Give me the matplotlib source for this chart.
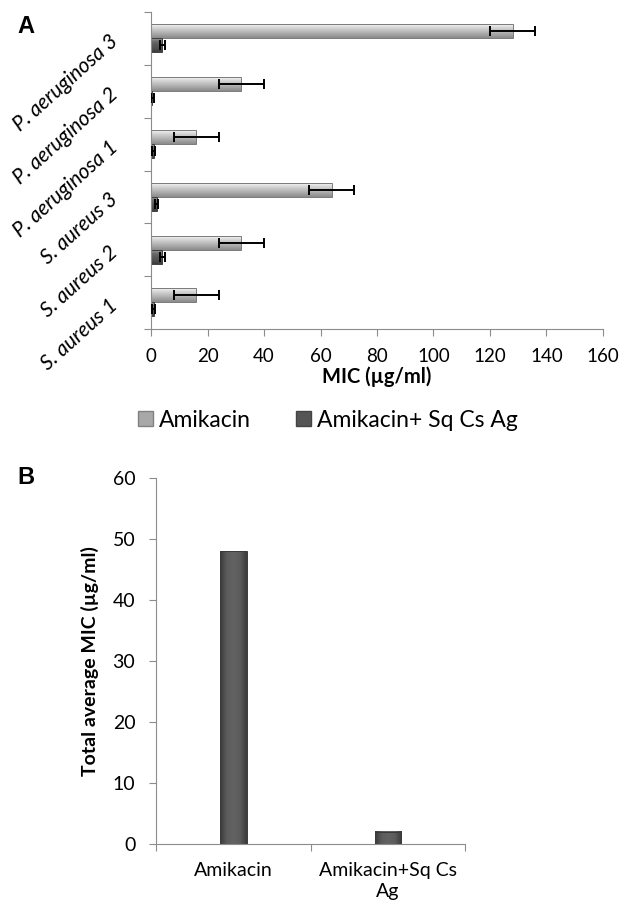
import matplotlib
matplotlib.use("Agg")
import matplotlib.pyplot as plt
import numpy as np
from matplotlib.patches import Patch
from matplotlib.colors import LinearSegmentedColormap

plt.rcParams['font.family'] = ['Lato', 'DejaVu Sans']

strains = ["S. aureus 1", "S. aureus 2", "S. aureus 3",
           "P. aeruginosa 1", "P. aeruginosa 2", "P. aeruginosa 3"]
amikacin = [16, 32, 64, 16, 32, 128]
amikacin_err = [8, 8, 8, 8, 8, 8]
combo = [1, 4, 2, 1, 0.5, 4]
combo_err = [0.5, 1, 0.5, 0.5, 0.5, 1]

groups = ["Amikacin", "Amikacin+Sq Cs\nAg"]
avg_mic = [48, 2]

light = "#a8a8a8"
dark = "#555555"
spine = "#8c8c8c"

light_cm = LinearSegmentedColormap.from_list("l", ["#8a8a8a", "#a4a4a4", "#bdbdbd", "#d6d6d6", "#f4f4f4"])
dark_cm = LinearSegmentedColormap.from_list("d", ["#3c3c3c", "#505050", "#5a5a5a", "#6a6a6a", "#9a9a9a"])
col_cm = LinearSegmentedColormap.from_list("c", ["#3a3a3a", "#5c5c5c", "#626262", "#5c5c5c", "#3a3a3a"])


def shade(ax, bars, cmap, vertical=False):
    # fake the bevelled office-style bars with a gradient inside each rectangle
    g = np.linspace(0, 1, 64)
    for p in bars:
        x0, y0 = p.get_x(), p.get_y()
        x1, y1 = x0 + p.get_width(), y0 + p.get_height()
        arr = g.reshape(1, -1) if vertical else g.reshape(-1, 1)
        ax.imshow(arr, extent=[x0, x1, y0, y1], origin="lower", aspect="auto",
                  cmap=cmap, zorder=1.2, interpolation="bilinear")


fig = plt.figure(figsize=(6.32, 9.08), dpi=100)

# panel A
ax = fig.add_axes([0.239, 0.6377, 0.715, 0.349])
y = np.arange(len(strains))
ekw = dict(ecolor="black", lw=1.4, capsize=3.5, capthick=1.4, zorder=3)
b1 = ax.barh(y + 0.135, amikacin, height=0.265, facecolor="none", edgecolor="#7a7a7a", lw=0.7,
             xerr=amikacin_err, error_kw=ekw, zorder=1.5)
b2 = ax.barh(y - 0.13, combo, height=0.265, facecolor="none", edgecolor="#404040", lw=0.7,
             xerr=combo_err, error_kw=ekw, zorder=1.5)
shade(ax, b1, light_cm)
shade(ax, b2, dark_cm)
ax.set_xlim(0, 160)
ax.set_xticks(range(0, 161, 20))
ax.set_ylim(-0.5, len(strains) - 0.5)
ax.set_yticks(np.arange(-0.5, len(strains), 1))
ax.set_yticklabels([])
ax.set_yticks(y, minor=True)
ax.set_yticklabels(strains, minor=True, rotation=42, ha="right", va="center",
                   rotation_mode="anchor", fontsize=15, style="italic")
ax.tick_params(axis="y", which="minor", length=0, pad=26)
ax.tick_params(axis="both", which="major", length=5, color=spine, labelsize=13.5)
ax.tick_params(axis="x", which="major", pad=9)
for s in ["top", "right"]:
    ax.spines[s].set_visible(False)
for s in ["left", "bottom"]:
    ax.spines[s].set_color(spine)
ax.set_xlabel("MIC (µg/ml)", fontsize=14.5, fontweight="bold", labelpad=1)

handles = [Patch(facecolor=light, edgecolor="#808080"), Patch(facecolor=dark, edgecolor="#444444")]
fig.legend(handles, ["Amikacin", "Amikacin+ Sq Cs Ag"], loc="center", ncol=2,
           bbox_to_anchor=(0.519, 0.5374), frameon=False, fontsize=16.5,
           handlelength=0.65, handleheight=0.65, handletextpad=0.25, columnspacing=2.0)

fig.text(0.027, 0.971, "A", fontsize=17, fontweight="bold", family="Liberation Sans", va="center")

# panel B
bx = fig.add_axes([0.247, 0.0705, 0.489, 0.4031])
x = np.arange(1, len(groups) + 1)
b3 = bx.bar(x, avg_mic, width=0.17, facecolor="none", edgecolor="#3a3a3a", lw=0.7, zorder=1.5)
shade(bx, b3, col_cm, vertical=True)
bx.set_xlim(0.5, len(groups) + 0.5)
bx.set_ylim(0, 60)
bx.set_yticks(range(0, 61, 10))
bx.set_xticks(np.arange(0.5, len(groups) + 1, 1))
bx.set_xticklabels([])
bx.set_xticks(x, minor=True)
bx.set_xticklabels(groups, minor=True, fontsize=14, linespacing=1.3)
bx.tick_params(axis="x", which="minor", length=0, pad=13)
bx.tick_params(axis="both", which="major", length=5, color=spine, labelsize=14)
bx.tick_params(axis="y", which="major", pad=10)
for s in ["top", "right"]:
    bx.spines[s].set_visible(False)
for s in ["left", "bottom"]:
    bx.spines[s].set_color(spine)
bx.set_ylabel("Total average MIC (µg/ml)", fontsize=14, fontweight="bold", labelpad=10)

fig.text(0.027, 0.4736, "B", fontsize=17, fontweight="bold", family="Liberation Sans", va="center")

fig.savefig("out.png", dpi=100)
